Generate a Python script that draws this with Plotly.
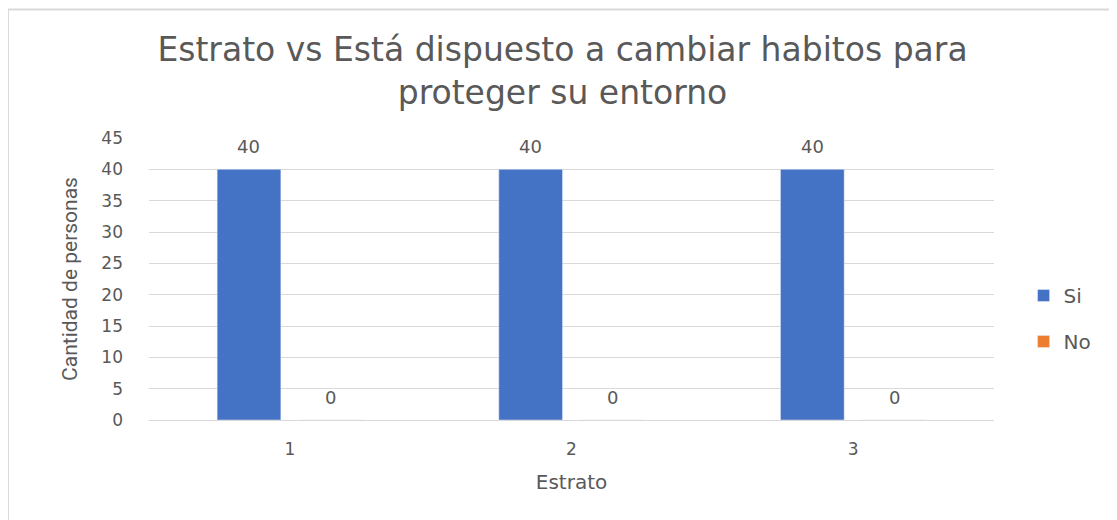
import plotly.graph_objects as go

# data
estratos = ["1", "2", "3"]
si_values = [40, 40, 40]
no_values = [0, 0, 0]

title_text = "Estrato vs Está dispuesto a cambiar habitos para<br>proteger su entorno"
grey = "#595959"
font_main = "DejaVu Sans"

W, H = 1109, 512
M = dict(l=141, r=123, t=130, b=100)
BARGAP = 0.42

fig = go.Figure()

fig.add_trace(go.Bar(
    x=estratos, y=si_values, name="Si",
    marker_color="#4472c4",
    legendgroup="si",
))
fig.add_trace(go.Bar(
    x=estratos, y=no_values, name="No",
    marker_color="#ed7d31",
    legendgroup="no",
))

# data labels above each bar (category index on the x axis)
cat_w = (W - M["l"] - M["r"]) / len(estratos)
shift = cat_w * (1 - BARGAP) / 4
for vals, dx in ((si_values, -shift), (no_values, shift)):
    for i, v in enumerate(vals):
        fig.add_annotation(
            x=i, y=v, text=str(v), showarrow=False,
            xshift=dx, yshift=23,
            font=dict(family=font_main, size=18, color=grey),
        )

fig.update_layout(
    width=W, height=H,
    paper_bgcolor="white", plot_bgcolor="white",
    font=dict(family=font_main, color=grey),
    title=dict(
        text=title_text,
        x=0.5, xanchor="center",
        yref="container", y=0.896, yanchor="top",
        font=dict(size=33, color=grey),
    ),
    margin=M,
    barmode="group",
    bargap=BARGAP,
    bargroupgap=0.22,
    legend=dict(
        x=1.035, y=0.36, xanchor="left", yanchor="middle",
        font=dict(size=20, color=grey),
        tracegroupgap=17,
    ),
    showlegend=True,
)

fig.update_xaxes(
    type="category", range=[-0.5, len(estratos) - 0.5],
    title=dict(text="Estrato", font=dict(size=20, color=grey), standoff=16),
    tickfont=dict(size=17, color=grey),
    showgrid=False, showline=False, ticks="", ticklabelstandoff=17,
)
fig.update_yaxes(
    title=dict(text="Cantidad de personas",
               font=dict(size=21, color=grey, family="Roboto"), standoff=18),
    range=[0, 45], dtick=5,
    tickfont=dict(size=17, color=grey),
    showgrid=True, gridcolor="#d9d9d9", gridwidth=1,
    zeroline=True, zerolinecolor="#d9d9d9", zerolinewidth=1,
    ticks="", ticklabelstandoff=25,
)

# outer chart border
fig.add_shape(
    type="rect", xref="paper", yref="paper",
    x0=-0.1669, x1=1.2, y0=-0.45, y1=1.4557,
    line=dict(color="#d9d9d9", width=2), fillcolor="rgba(0,0,0,0)",
    layer="below",
)

fig.write_html("out.html")
